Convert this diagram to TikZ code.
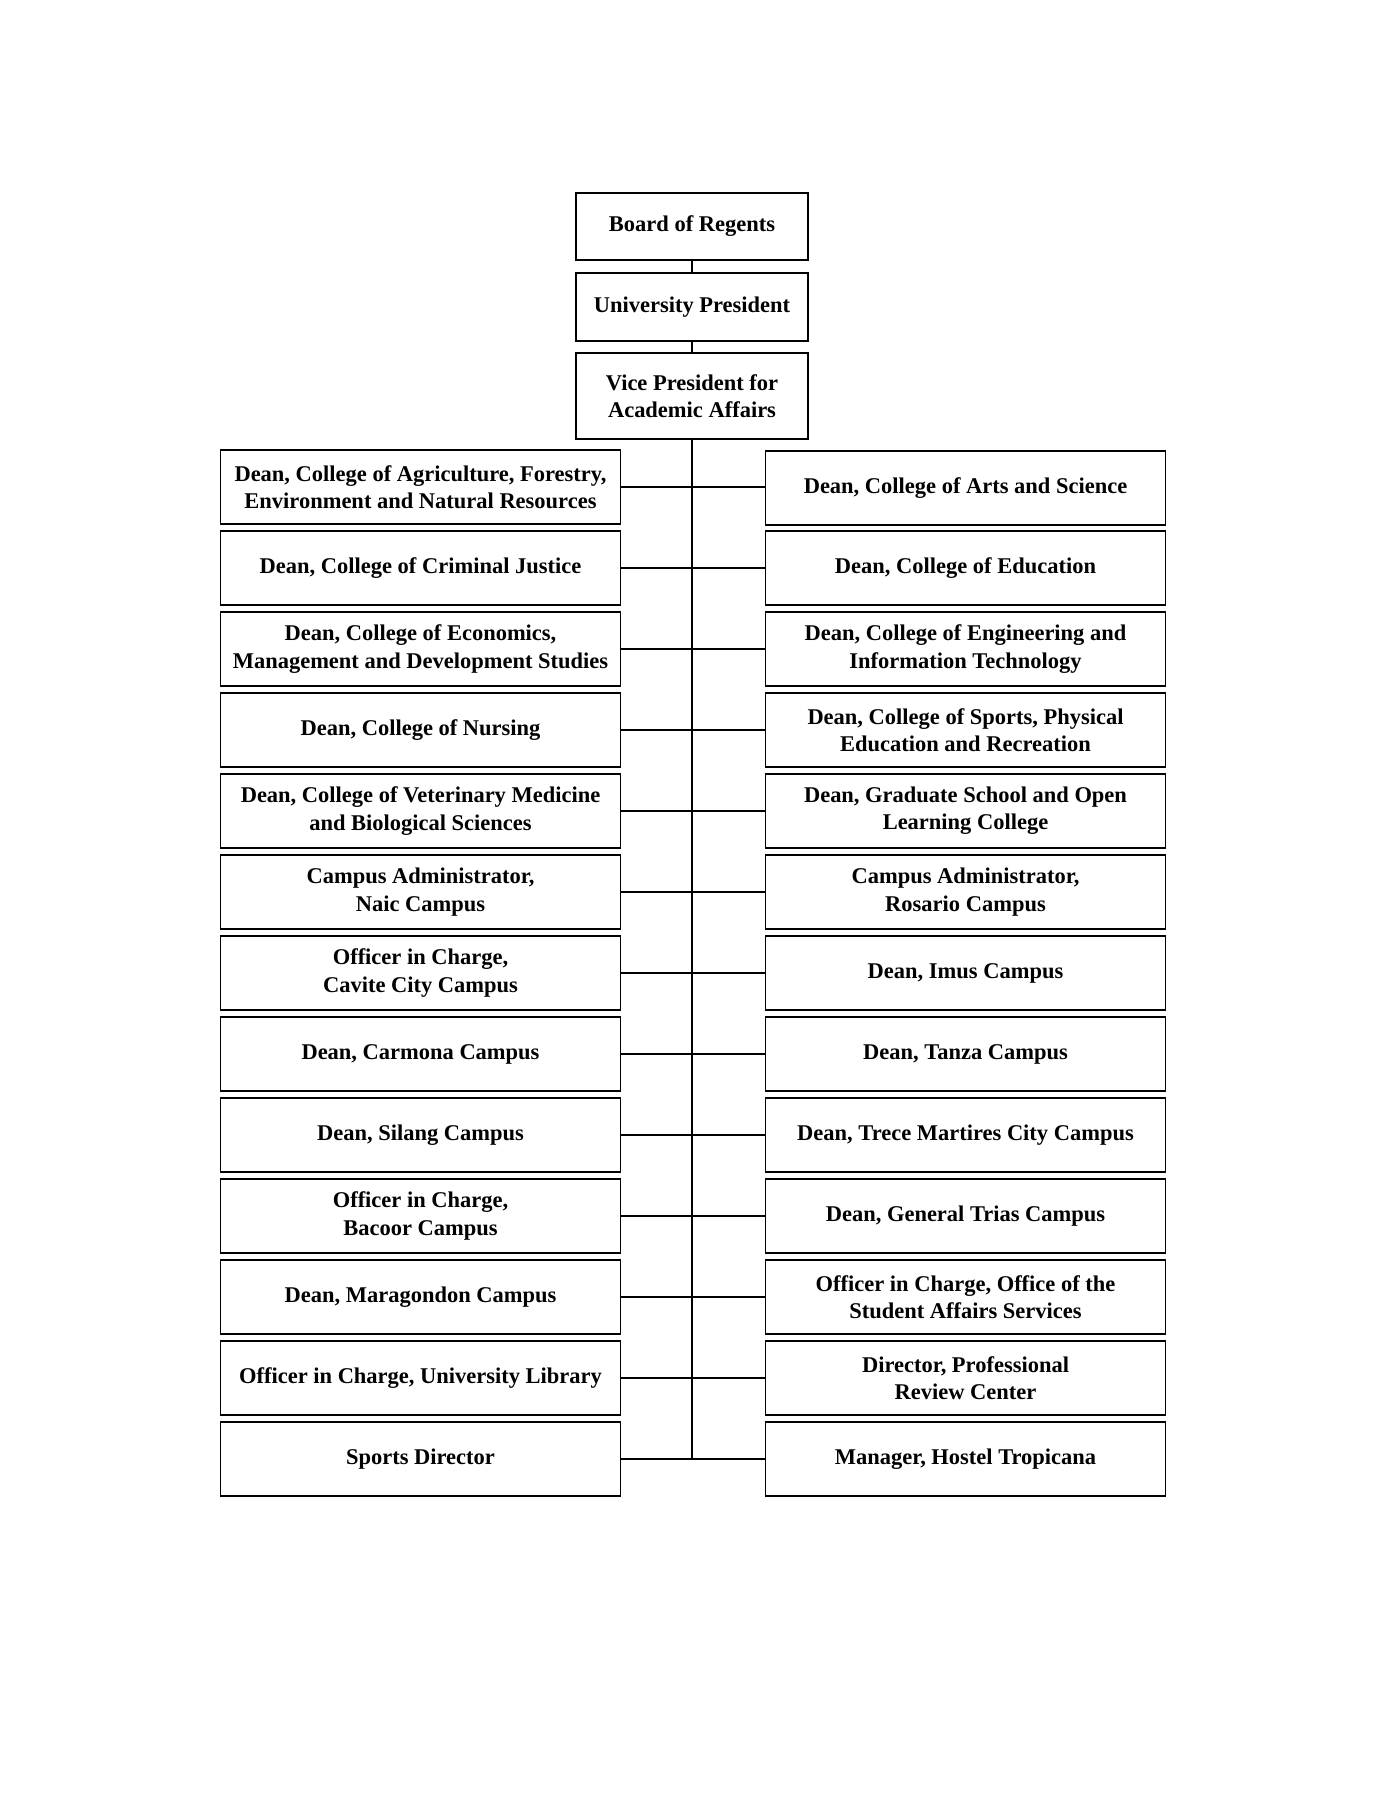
\documentclass[tikz,border=0pt]{standalone}
\usepackage{fontspec}
\setmainfont{Liberation Serif}
\usepackage{tikz}
\usetikzlibrary{positioning}

\tikzset{
  unitbox/.style={draw=black, line width=0.6pt, fill=white, inner sep=0pt, align=center,
                  font=\fontsize{9.9}{12}\selectfont\bfseries},
  sidebox/.style={unitbox, minimum width=176pt, minimum height=32.6pt},
  topbox/.style={unitbox, minimum width=102pt},
  link/.style={draw=black, line width=0.85pt}
}

\begin{document}
\begin{tikzpicture}[x=0.4403pt, y=-0.4403pt]
\useasboundingbox (0,0) rectangle (1390,1800);
%%% The top of the chain
\node[topbox, minimum height=29.5pt] (bor) at (692, 226.5) {Board of Regents};
\node[topbox, minimum height=29.9pt] (pres) at (692, 307) {University President};
\node[topbox, minimum height=37.9pt] (vpaa) at (692, 396) {Vice President for\\Academic Affairs};
%%%%%% The units on the left side
\node[sidebox] (l0) at (420.5, 487) {Dean, College of Agriculture, Forestry,\\Environment and Natural Resources};
\node[sidebox] (l1) at (420.5, 568) {Dean, College of Criminal Justice};
\node[sidebox] (l2) at (420.5, 649) {Dean, College of Economics,\\Management and Development Studies};
\node[sidebox] (l3) at (420.5, 730) {Dean, College of Nursing};
\node[sidebox] (l4) at (420.5, 811) {Dean, College of Veterinary Medicine\\and Biological Sciences};
\node[sidebox] (l5) at (420.5, 892) {Campus Administrator,\\Naic Campus};
\node[sidebox] (l6) at (420.5, 973) {Officer in Charge,\\Cavite City Campus};
\node[sidebox] (l7) at (420.5, 1054) {Dean, Carmona Campus};
\node[sidebox] (l8) at (420.5, 1135) {Dean, Silang Campus};
\node[sidebox] (l9) at (420.5, 1216) {Officer in Charge,\\Bacoor Campus};
\node[sidebox] (l10) at (420.5, 1297) {Dean, Maragondon Campus};
\node[sidebox] (l11) at (420.5, 1378) {Officer in Charge, University Library};
\node[sidebox] (l12) at (420.5, 1459) {Sports Director};
%%%%%% The units on the right side
\node[sidebox] (r0) at (965.5, 488) {Dean, College of Arts and Science};
\node[sidebox] (r1) at (965.5, 568) {Dean, College of Education};
\node[sidebox] (r2) at (965.5, 649) {Dean, College of Engineering and\\Information Technology};
\node[sidebox] (r3) at (965.5, 730) {Dean, College of Sports, Physical\\Education and Recreation};
\node[sidebox] (r4) at (965.5, 811) {Dean, Graduate School and Open\\Learning College};
\node[sidebox] (r5) at (965.5, 892) {Campus Administrator,\\Rosario Campus};
\node[sidebox] (r6) at (965.5, 973) {Dean, Imus Campus};
\node[sidebox] (r7) at (965.5, 1054) {Dean, Tanza Campus};
\node[sidebox] (r8) at (965.5, 1135) {Dean, Trece Martires City Campus};
\node[sidebox] (r9) at (965.5, 1216) {Dean, General Trias Campus};
\node[sidebox] (r10) at (965.5, 1297) {Officer in Charge, Office of the\\Student Affairs Services};
\node[sidebox] (r11) at (965.5, 1378) {Director, Professional\\Review Center};
\node[sidebox] (r12) at (965.5, 1459) {Manager, Hostel Tropicana};
%%%% The chain of command at the top
\draw[link] (bor) -- (pres);
\draw[link] (pres) -- (vpaa);
\coordinate (trunkend) at (vpaa.south |- l12.east);
\draw[link] (vpaa.south) -- (trunkend);
%%%%%% The branches to both sides
\draw[link] (l0.east) -- (l0.east -| r0.west);
\draw[link] (l1.east) -- (r1.west);
\draw[link] (l2.east) -- (r2.west);
\draw[link] (l3.east) -- (r3.west);
\draw[link] (l4.east) -- (r4.west);
\draw[link] (l5.east) -- (r5.west);
\draw[link] (l6.east) -- (r6.west);
\draw[link] (l7.east) -- (r7.west);
\draw[link] (l8.east) -- (r8.west);
\draw[link] (l9.east) -- (r9.west);
\draw[link] (l10.east) -- (r10.west);
\draw[link] (l11.east) -- (r11.west);
\draw[link] (l12.east) -- (r12.west);
\end{tikzpicture}
\end{document}
